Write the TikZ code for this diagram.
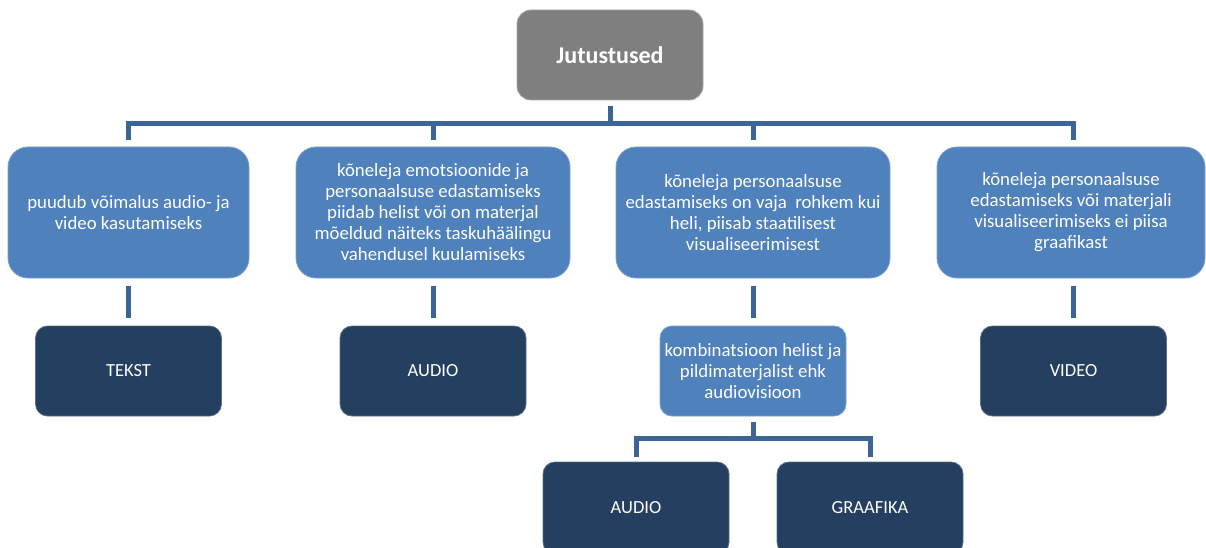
\documentclass[tikz,border=0pt]{standalone}
\usepackage{fontspec}
\setmainfont{Carlito}
\definecolor{rootgray}{HTML}{7F7F7F}
\definecolor{midblue}{HTML}{4F81BD}
\definecolor{navy}{HTML}{243F60}
\definecolor{linkblue}{HTML}{3C6595}
\tikzset{
  rootbox/.style={draw=rootgray!70!white, line width=0.8pt, fill=rootgray, rounded corners=14pt,
    minimum width=186pt, minimum height=90pt, text=white,
    font=\fontsize{24}{28}\selectfont\bfseries},
  topicbox/.style={draw=midblue!75!white, line width=0.8pt, fill=midblue, rounded corners=20pt,
    minimum height=131pt, text=white, align=center, inner sep=0pt,
    font=\fontsize{18.8}{21}\selectfont},
  mediumbox/.style={draw=navy!75!white, line width=0.8pt, fill=navy, rounded corners=12pt,
    minimum width=186pt, minimum height=90pt, text=white, align=center,
    font=\fontsize{18.5}{21}\selectfont},
  mixbox/.style={draw=midblue!75!white, line width=0.8pt, fill=midblue, rounded corners=12pt,
    minimum width=186pt, minimum height=90pt, text=white, align=center, inner sep=0pt,
    font=\fontsize{18.8}{21}\selectfont},
  conn/.style={draw=linkblue, line width=5pt}
}
\begin{document}
\begin{tikzpicture}[x=1pt,y=-1pt]
\useasboundingbox (0,0) rectangle (1206,548);
\clip (0,0) rectangle (1206,548);

% root
\node[rootbox] (root) at (610,55) {Jutustused};

% first level
\node[topicbox, minimum width=241pt] (t1) at (128.5,212.5)
  {puudub võimalus audio- ja\\video kasutamiseks};
\node[topicbox, minimum width=274pt] (t2) at (433,212.5)
  {kõneleja emotsioonide ja\\personaalsuse edastamiseks\\piidab helist või on materjal\\mõeldud näiteks taskuhäälingu\\vahendusel kuulamiseks};
\node[topicbox, minimum width=274pt] (t3) at (753,212.5)
  {kõneleja personaalsuse\\edastamiseks on vaja\ \ rohkem kui\\heli, piisab staatilisest\\visualiseerimisest};
\node[topicbox, minimum width=268pt] (t4) at (1071,212.5)
  {kõneleja personaalsuse\\edastamiseks või materjali\\visualiseerimiseks ei piisa\\graafikast};

% second level
\node[mediumbox] (m1) at (128.5,371) {TEKST};
\node[mediumbox] (m2) at (433,371) {AUDIO};
\node[mixbox] (m3) at (753,371) {kombinatsioon helist ja\\pildimaterjalist ehk\\audiovisioon};
\node[mediumbox] (m4) at (1073.5,371) {VIDEO};

% third level
\node[mediumbox, minimum height=92pt] (s1) at (636,508) {AUDIO};
\node[mediumbox, minimum height=92pt] (s2) at (870,508) {GRAAFIKA};

% connectors from the root
\foreach \t in {t1,t2,t3}
  \draw[conn, shorten <=6pt, shorten >=7pt] (root.south) -- ++(0,23) -| (\t.north);
\draw[conn, shorten <=6pt, shorten >=7pt] (root.south) -- ++(0,23) -| (m4.north |- t4.north);

% connectors to the second level
\draw[conn, shorten <=8pt, shorten >=8pt] (t1.south) -- (m1.north);
\draw[conn, shorten <=8pt, shorten >=8pt] (t2.south) -- (m2.north);
\draw[conn, shorten <=8pt, shorten >=8pt] (t3.south) -- (m3.north);
\draw[conn, shorten <=8pt, shorten >=8pt] (m4.north |- t4.south) -- (m4.north);

% connectors to the third level
\foreach \s in {s1,s2}
  \draw[conn, shorten <=6pt, shorten >=5pt] (m3.south) -- ++(0,22) -| (\s.north);
\end{tikzpicture}
\end{document}
